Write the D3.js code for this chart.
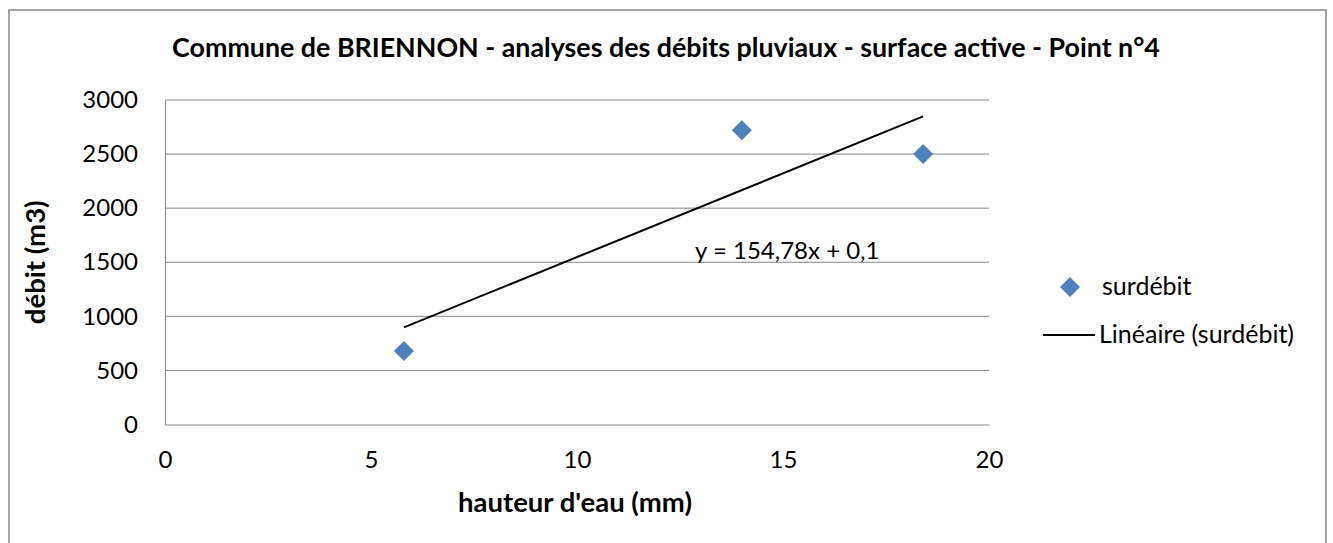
<!DOCTYPE html>
<meta charset="utf-8">
<style>
body { margin: 0; background: #fff; }
text { font-family: Lato, "Liberation Sans", sans-serif; fill: #000; }
</style>
<body>
<script src="https://cdn.jsdelivr.net/npm/d3@7"></script>
<script>

var w = 1333,
    h = 543;

// surdébit points (hauteur d'eau mm, débit m3)
var hauteur = [5.8, 14, 18.4];
var debit = [680, 2720, 2500];

// trend line: y = 154,78x + 0,1
var slope = 154.78,
    intercept = 0.1;

var xTicks = [0, 5, 10, 15, 20];
var yTicks = [0, 500, 1000, 1500, 2000, 2500, 3000];

var title = "Commune de BRIENNON - analyses des débits pluviaux - surface active - Point n°4";
var xTitle = "hauteur d'eau (mm)";
var yTitle = "débit (m3)";
var seriesName = "surdébit";
var trendName = "Linéaire (surdébit)";
var eqLabel = "y = 154,78x + 0,1";

var plotLeft = 165, plotRight = 989, plotTop = 100, plotBottom = 424.5;

var svg = d3.select("body").append("svg")
    .attr("width", w)
    .attr("height", h);

// chart border
svg.append("rect")
    .attr("x", 9)
    .attr("y", 10)
    .attr("width", 1317)
    .attr("height", 560)
    .attr("fill", "none")
    .attr("stroke", "#888")
    .attr("stroke-width", 1.5);

var x = d3.scaleLinear().domain([0, 20]).range([plotLeft, plotRight]);
var y = d3.scaleLinear().domain([0, 3000]).range([plotBottom, plotTop]);

// gridlines
svg.append("g").selectAll("line")
    .data(yTicks.slice(1))
  .enter().append("line")
    .attr("x1", plotLeft)
    .attr("x2", plotRight)
    .attr("y1", function(d) { return y(d); })
    .attr("y2", function(d) { return y(d); })
    .attr("stroke", "#868686")
    .attr("stroke-width", 1);

// y axis
var yAxis = svg.append("g")
    .attr("transform", "translate(" + plotLeft + ",0)")
    .call(d3.axisLeft(y).tickValues(yTicks).tickFormat(d3.format("d")).tickSize(0).tickPadding(27));
yAxis.select(".domain").attr("stroke", "#868686");
yAxis.selectAll("text").style("font-size", "24px").style("font-family", "Lato");

// x axis
var xAxis = svg.append("g")
    .attr("transform", "translate(0," + plotBottom + ")")
    .call(d3.axisBottom(x).tickValues(xTicks).tickFormat(d3.format("d")).tickSize(0).tickPadding(26));
xAxis.select(".domain").attr("stroke", "#868686");
xAxis.selectAll("text").style("font-size", "24px").style("font-family", "Lato");

// titles
svg.append("text")
    .attr("x", 666)
    .attr("y", 57)
    .attr("text-anchor", "middle")
    .style("font-size", "26.8px")
    .style("font-weight", "bold")
    .text(title);

svg.append("text")
    .attr("x", 575)
    .attr("y", 512)
    .attr("text-anchor", "middle")
    .style("font-size", "27.5px")
    .style("font-weight", "bold")
    .text(xTitle);

svg.append("text")
    .attr("transform", "translate(45," + y(1500) + ") rotate(-90)")
    .attr("text-anchor", "middle")
    .style("font-size", "27.5px")
    .style("font-weight", "bold")
    .text(yTitle);

// trend line
var x0 = d3.min(hauteur), x1 = d3.max(hauteur);
svg.append("line")
    .attr("x1", x(x0))
    .attr("y1", y(slope * x0 + intercept))
    .attr("x2", x(x1))
    .attr("y2", y(slope * x1 + intercept))
    .attr("stroke", "#000")
    .attr("stroke-width", 2);

svg.append("text")
    .attr("x", 695)
    .attr("y", 259)
    .style("font-size", "24px")
    .text(eqLabel);

// points
var diamond = d3.symbol().type(d3.symbolSquare).size(200);
svg.append("g").selectAll("path")
    .data(d3.range(hauteur.length))
  .enter().append("path")
    .attr("d", diamond)
    .attr("transform", function(i) { return "translate(" + x(hauteur[i]) + "," + y(debit[i]) + ") rotate(45)"; })
    .attr("fill", "#4F81BD");

// legend
svg.append("path")
    .attr("d", diamond)
    .attr("transform", "translate(1070,287) rotate(45)")
    .attr("fill", "#4F81BD");
svg.append("text")
    .attr("x", 1102)
    .attr("y", 295)
    .style("font-size", "25px")
    .text(seriesName);

svg.append("line")
    .attr("x1", 1043)
    .attr("x2", 1095)
    .attr("y1", 335)
    .attr("y2", 335)
    .attr("stroke", "#000")
    .attr("stroke-width", 2);
svg.append("text")
    .attr("x", 1099)
    .attr("y", 343)
    .style("font-size", "25px")
    .text(trendName);

</script>
